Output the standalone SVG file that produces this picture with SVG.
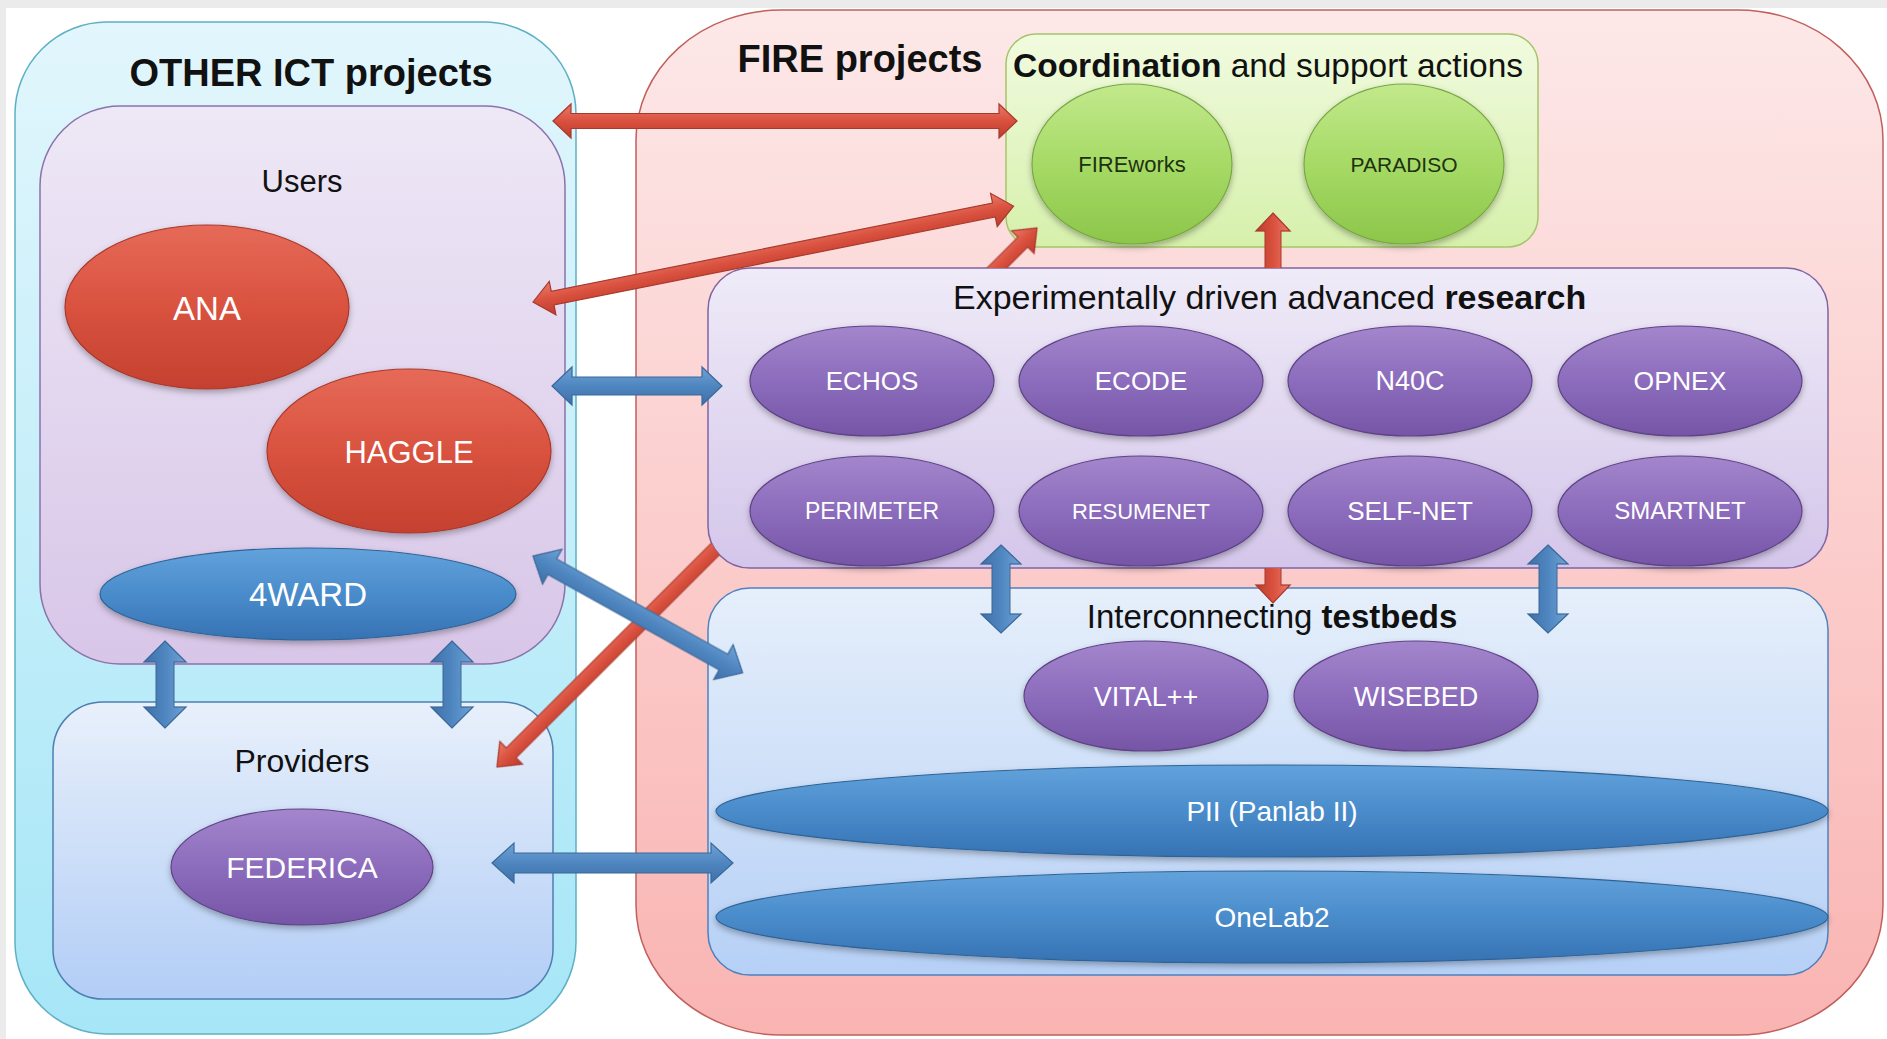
<svg xmlns="http://www.w3.org/2000/svg" width="1887" height="1039" viewBox="0 0 1887 1039">
<defs>
<style>
text{font-family:'Liberation Sans',Arial,sans-serif;}
.title{font-weight:bold;fill:#111;}
.hdr{fill:#111;}
.lbl{fill:#fff;text-anchor:middle;}
.glbl{fill:#1e3210;text-anchor:middle;}
.redA{fill:url(#gRedArrow);stroke:#a8392c;stroke-width:1.2;}
.blueA{fill:url(#gBlueArrow);stroke:#3a6898;stroke-width:1.2;}
.redE{fill:url(#gRed);stroke:#a8392c;stroke-width:1.2;filter:url(#sh);}
.blueE{fill:url(#gBlue);stroke:#2f6497;stroke-width:1.2;filter:url(#sh);}
.purpE{fill:url(#gPurp);stroke:#5f4387;stroke-width:1.2;filter:url(#sh);}
.greenE{fill:url(#gGreen);stroke:#78a844;stroke-width:1.2;filter:url(#sh);}
</style>
<filter id="sh" x="-10%" y="-10%" width="120%" height="130%">
<feDropShadow dx="0" dy="3" stdDeviation="3" flood-color="#000" flood-opacity="0.3"/>
</filter>
<linearGradient id="gCyan" x1="0" y1="0" x2="0" y2="1"><stop offset="0" stop-color="#e2f6fc"/><stop offset="1" stop-color="#a6e6f7"/></linearGradient>
<linearGradient id="gUsers" x1="0" y1="0" x2="0" y2="1"><stop offset="0" stop-color="#eee8f6"/><stop offset="1" stop-color="#d8c6e8"/></linearGradient>
<linearGradient id="gProv" x1="0" y1="0" x2="0" y2="1"><stop offset="0" stop-color="#e8f0fb"/><stop offset="1" stop-color="#b2cdf6"/></linearGradient>
<linearGradient id="gFire" x1="0" y1="0" x2="0" y2="1"><stop offset="0" stop-color="#fde8e8"/><stop offset="1" stop-color="#f9b4b2"/></linearGradient>
<linearGradient id="gCoord" x1="0" y1="0" x2="0" y2="1"><stop offset="0" stop-color="#f1fbdf"/><stop offset="1" stop-color="#d6f0ab"/></linearGradient>
<linearGradient id="gRes" x1="0" y1="0" x2="0" y2="1"><stop offset="0" stop-color="#efebf8"/><stop offset="1" stop-color="#d4c6ea"/></linearGradient>
<linearGradient id="gTest" x1="0" y1="0" x2="0" y2="1"><stop offset="0" stop-color="#e6effb"/><stop offset="1" stop-color="#b6d0f6"/></linearGradient>
<linearGradient id="gRed" x1="0" y1="0" x2="0" y2="1"><stop offset="0" stop-color="#e66a58"/><stop offset="0.5" stop-color="#d9523f"/><stop offset="1" stop-color="#c4412f"/></linearGradient>
<linearGradient id="gBlue" x1="0" y1="0" x2="0" y2="1"><stop offset="0" stop-color="#62a2dc"/><stop offset="0.5" stop-color="#4a8ccb"/><stop offset="1" stop-color="#3672b3"/></linearGradient>
<linearGradient id="gPurp" x1="0" y1="0" x2="0" y2="1"><stop offset="0" stop-color="#a386cc"/><stop offset="0.5" stop-color="#8c6cbc"/><stop offset="1" stop-color="#7655a6"/></linearGradient>
<linearGradient id="gGreen" x1="0" y1="0" x2="0" y2="1"><stop offset="0" stop-color="#c2e98c"/><stop offset="0.5" stop-color="#a6da66"/><stop offset="1" stop-color="#8cc64a"/></linearGradient>
<linearGradient id="gRedArrow" x1="0" y1="0" x2="0" y2="1"><stop offset="0" stop-color="#ec7a68"/><stop offset="0.5" stop-color="#d9503e"/><stop offset="1" stop-color="#bd3d2d"/></linearGradient>
<linearGradient id="gBlueArrow" x1="0" y1="0" x2="0" y2="1"><stop offset="0" stop-color="#6fa3d6"/><stop offset="0.5" stop-color="#4f86c0"/><stop offset="1" stop-color="#3e70a8"/></linearGradient>
<mask id="behindRes" maskUnits="userSpaceOnUse" x="0" y="0" width="1887" height="1039">
<rect x="0" y="0" width="1887" height="1039" fill="#fff"/>
<rect x="708" y="268" width="1120" height="300" rx="42" fill="#000"/>
</mask>
</defs>

<rect x="0" y="0" width="1887" height="1039" fill="#ffffff"/>
<rect x="0" y="0" width="1887" height="8" fill="#ebebeb"/>
<rect x="0" y="0" width="6" height="1039" fill="#ebebeb"/>

<g id="other-ict">
<rect x="15" y="22" width="561" height="1012" rx="92" fill="url(#gCyan)" stroke="#5fb0c4" stroke-width="1.5"/>
<text class="title" x="311" y="86" font-size="38" text-anchor="middle">OTHER ICT projects</text>
</g>
<g id="users">
<rect x="40" y="106" width="525" height="558" rx="80" fill="url(#gUsers)" stroke="#8b72aa" stroke-width="1.5"/>
<text class="hdr" x="302" y="192" font-size="31" text-anchor="middle">Users</text>
</g>
<g id="providers">
<rect x="53" y="702" width="500" height="297" rx="50" fill="url(#gProv)" stroke="#4f7fb0" stroke-width="1.5"/>
<text class="hdr" x="302" y="772" font-size="32" text-anchor="middle">Providers</text>
</g>
<g id="fire">
<rect x="636" y="10" width="1247" height="1025" rx="145" ry="130" fill="url(#gFire)" stroke="#c0605c" stroke-width="1.5"/>
<text class="title" x="860" y="72" font-size="38" text-anchor="middle">FIRE projects</text>
</g>
<g id="coordination">
<rect x="1006" y="34" width="532" height="213" rx="30" fill="url(#gCoord)" stroke="#a6c46a" stroke-width="1.5"/>
<text class="hdr" x="1013" y="77" font-size="33.5"><tspan font-weight="bold">Coordination</tspan> and support actions</text>
</g>
<g id="research">
<rect x="708" y="268" width="1120" height="300" rx="42" fill="url(#gRes)" stroke="#8064a2" stroke-width="1.5"/>
<text class="hdr" x="953" y="309" font-size="34">Experimentally driven advanced <tspan font-weight="bold">research</tspan></text>
</g>
<g id="testbeds">
<rect x="708" y="588" width="1120" height="387" rx="42" fill="url(#gTest)" stroke="#4f81bd" stroke-width="1.5"/>
<text class="hdr" x="1272" y="628" font-size="33" text-anchor="middle">Interconnecting <tspan font-weight="bold">testbeds</tspan></text>
</g>

<g id="ana"><ellipse class="redE" cx="207" cy="307" rx="142" ry="82"/><text class="lbl" x="207" y="320" font-size="33">ANA</text></g>
<g id="haggle"><ellipse class="redE" cx="409" cy="451" rx="142" ry="82"/><text class="lbl" x="409" y="463" font-size="31">HAGGLE</text></g>
<g id="4ward"><ellipse class="blueE" cx="308" cy="594" rx="208" ry="46"/><text class="lbl" x="308" y="606" font-size="33">4WARD</text></g>
<g id="federica"><ellipse class="purpE" cx="302" cy="867" rx="131" ry="58"/><text class="lbl" x="302" y="878" font-size="30">FEDERICA</text></g>

<g id="fireworks"><ellipse class="greenE" cx="1132" cy="164" rx="100" ry="80"/><text class="glbl" x="1132" y="172" font-size="22">FIREworks</text></g>
<g id="paradiso"><ellipse class="greenE" cx="1404" cy="164" rx="100" ry="80"/><text class="glbl" x="1404" y="172" font-size="21">PARADISO</text></g>

<g id="echos"><ellipse class="purpE" cx="872" cy="381" rx="122" ry="55"/><text class="lbl" x="872" y="390" font-size="26">ECHOS</text></g>
<g id="ecode"><ellipse class="purpE" cx="1141" cy="381" rx="122" ry="55"/><text class="lbl" x="1141" y="390" font-size="26">ECODE</text></g>
<g id="n40c"><ellipse class="purpE" cx="1410" cy="381" rx="122" ry="55"/><text class="lbl" x="1410" y="390" font-size="27">N40C</text></g>
<g id="opnex"><ellipse class="purpE" cx="1680" cy="381" rx="122" ry="55"/><text class="lbl" x="1680" y="390" font-size="26.5">OPNEX</text></g>
<g id="perimeter"><ellipse class="purpE" cx="872" cy="511" rx="122" ry="55"/><text class="lbl" x="872" y="519" font-size="23">PERIMETER</text></g>
<g id="resumenet"><ellipse class="purpE" cx="1141" cy="511" rx="122" ry="55"/><text class="lbl" x="1141" y="519" font-size="22">RESUMENET</text></g>
<g id="self-net"><ellipse class="purpE" cx="1410" cy="511" rx="122" ry="55"/><text class="lbl" x="1410" y="520" font-size="26">SELF-NET</text></g>
<g id="smartnet"><ellipse class="purpE" cx="1680" cy="511" rx="122" ry="55"/><text class="lbl" x="1680" y="519" font-size="24">SMARTNET</text></g>

<g id="vital"><ellipse class="purpE" cx="1146" cy="696" rx="122" ry="55"/><text class="lbl" x="1146" y="706" font-size="27">VITAL++</text></g>
<g id="wisebed"><ellipse class="purpE" cx="1416" cy="696" rx="122" ry="55"/><text class="lbl" x="1416" y="706" font-size="27">WISEBED</text></g>
<g id="pii"><ellipse class="blueE" cx="1272" cy="811" rx="556" ry="46"/><text class="lbl" x="1272" y="821" font-size="28">PII (Panlab II)</text></g>
<g id="onelab2"><ellipse class="blueE" cx="1272" cy="917" rx="556" ry="46"/><text class="lbl" x="1272" y="927" font-size="28">OneLab2</text></g>

<g id="connectors">
<path class="redA" transform="translate(553,121)" d="M0,0 L18,-17 L18,-7.5 L446,-7.5 L446,-17 L464,0 L446,17 L446,7.5 L18,7.5 L18,17 Z"/>
<path class="redA" transform="translate(533,302) rotate(-11.29)" d="M0,0 L20,-17 L20,-7 L470,-7 L470,-17 L490,0 L470,17 L470,7 L20,7 L20,17 Z"/>
<g mask="url(#behindRes)">
<path class="redA" transform="translate(497,767) rotate(-44.95)" d="M0,0 L20,-16 L20,-7 L743,-7 L743,-16 L763,0 L743,16 L743,7 L20,7 L20,16 Z"/>
<path class="redA" transform="translate(1273,213) rotate(90)" d="M0,0 L18,-17 L18,-8 L372,-8 L372,-17 L390,0 L372,17 L372,8 L18,8 L18,17 Z"/>
</g>
<path class="blueA" transform="translate(552,386)" d="M0,0 L20,-19 L20,-9 L150,-9 L150,-19 L170,0 L150,19 L150,9 L20,9 L20,19 Z"/>
<path class="blueA" transform="translate(533,556) rotate(29.12)" d="M0,0 L22,-20 L22,-9 L218,-9 L218,-20 L240,0 L218,20 L218,9 L22,9 L22,20 Z"/>
<path class="blueA" transform="translate(492,863)" d="M0,0 L22,-20 L22,-10 L219,-10 L219,-20 L241,0 L219,20 L219,10 L22,10 L22,20 Z"/>
<path class="blueA" transform="translate(165,641) rotate(90)" d="M0,0 L21,-21 L21,-9 L66,-9 L66,-21 L87,0 L66,21 L66,9 L21,9 L21,21 Z"/>
<path class="blueA" transform="translate(452,641) rotate(90)" d="M0,0 L21,-21 L21,-9 L66,-9 L66,-21 L87,0 L66,21 L66,9 L21,9 L21,21 Z"/>
<path class="blueA" transform="translate(1001,545) rotate(90)" d="M0,0 L19,-20 L19,-9 L69,-9 L69,-20 L88,0 L69,20 L69,9 L19,9 L19,20 Z"/>
<path class="blueA" transform="translate(1548,545) rotate(90)" d="M0,0 L19,-20 L19,-9 L69,-9 L69,-20 L88,0 L69,20 L69,9 L19,9 L19,20 Z"/>
</g>
</svg>
